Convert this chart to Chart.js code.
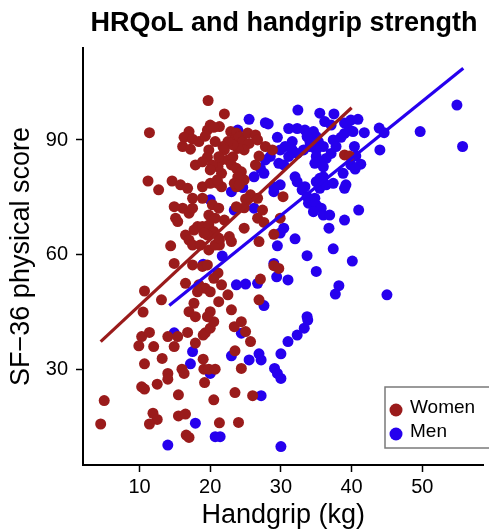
<!DOCTYPE html>
<html>
<head>
<meta charset="utf-8">
<style>
  html, body { margin: 0; padding: 0; background: #fff; }
</style>
</head>
<body>

<canvas id="gripChart" width="489" height="532"></canvas>

<script src="https://cdn.jsdelivr.net/npm/chart.js@4.4.0/dist/chart.umd.min.js"></script>
<script>
// values
const womenGrip = [
  4.5, 5.0, 10.3, 11.4, 9.9, 12.0, 14.0, 15.4, 16.8, 14.9, 10.7, 13.2, 17.9, 19.0, 19.3, 20.0, 20.5,
  14.0, 14.0, 16.0, 16.3, 19.0, 19.1, 19.8, 20.7, 19.2, 10.3, 10.7, 12.5, 15.5, 20.5, 11.9, 12.5,
  11.4, 15.5, 16.5, 16.6, 17.0, 21.3, 23.4, 24.4, 25.0, 25.7, 23.5, 24.4, 23.5, 26.0, 24.0,
  25.7, 26.7, 25.0, 30.3, 24.8, 27.4, 23.7, 26.7, 27.6, 29.9, 24.8, 22.0, 22.7, 23.0, 21.3, 21.3,
  26.9, 29.0, 29.0, 29.7, 27.1, 21.1, 21.6, 22.5, 26.9, 23.0, 21.6, 23.7,
  22.0, 21.3, 22.9, 23.7, 23.4, 24.1, 24.6, 25.3, 25.5, 24.8, 23.9, 23.2, 22.5, 21.8, 21.6, 22.5,
  23.2, 23.0, 23.7, 24.4, 24.8, 23.9, 23.4, 24.1, 21.6, 21.1, 21.1, 26.4, 26.7, 27.8, 28.8, 26.9,
  26.4, 22.0, 39.0, 39.7,
  19.7, 11.4, 17.0, 16.3, 17.5, 18.4, 19.6, 20.0, 20.5, 19.3, 16.1, 17.2, 19.8, 20.7, 21.2, 19.6,
  17.9, 18.9, 20.3, 20.0, 11.2, 14.6, 12.7, 15.8, 16.8, 18.9, 20.0, 21.0,
  17.5, 16.1, 17.0, 17.5, 14.9, 15.1, 15.4, 18.9, 20.3, 19.8, 20.7, 21.2, 18.2, 17.7, 18.9, 19.8,
  20.5, 19.6, 19.1, 16.5, 17.0, 17.5, 14.4, 18.6, 19.8, 20.7, 21.2, 14.9, 17.5, 18.9, 19.6, 20.5,
  16.5, 18.4, 19.3, 20.0, 18.2, 10.7, 13.1, 10.5, 17.7, 17.0, 17.9, 20.0, 19.6, 21.2
];
const womenScore = [
  15.9, 22.0, 38.7, 39.8, 36.3, 36.1, 38.7, 38.7, 39.8, 36.1, 31.6, 33.0, 37.0, 39.1, 39.7, 40.9, 42.6,
  29.1, 27.6, 30.2, 29.1, 32.8, 30.2, 30.2, 30.2, 26.7, 25.6, 25.0, 26.3, 23.5, 22.2, 18.7, 17.1,
  15.9, 18.0, 18.5, 13.0, 12.4, 16.2, 41.3, 42.6, 40.0, 37.4, 35.0, 30.4, 24.1, 23.3, 16.3,
  75.7, 74.8, 74.6, 75.2, 72.3, 71.7, 72.6, 69.6, 68.5, 69.6, 67.0, 69.1, 64.8, 63.5, 63.9, 62.6,
  63.5, 65.4, 57.2, 56.5, 53.7, 55.3, 52.2, 49.6, 48.3, 45.7, 77.8, 77.8,
  96.8, 93.5, 92.2, 91.8, 90.0, 90.9, 89.6, 91.8, 89.1, 87.4, 87.8, 88.7, 89.6, 88.3, 84.8, 84.8,
  85.6, 83.5, 82.6, 81.7, 79.6, 80.4, 78.7, 78.3, 81.3, 83.0, 78.7, 91.3, 90.0, 88.3, 87.4, 85.8,
  83.5, 87.4, 86.1, 85.8,
  100.3, 91.9, 92.2, 90.7, 90.2, 89.6, 92.6, 93.9, 93.3, 91.0, 88.3, 87.6, 87.4, 89.6, 85.6, 85.5,
  83.5, 84.3, 83.5, 82.2, 79.3, 79.3, 77.0, 78.3, 77.4, 77.8, 78.7, 79.6,
  74.8, 72.2, 70.9, 72.2, 72.6, 69.6, 68.7, 74.8, 73.1, 70.4, 69.6, 72.2, 67.4, 66.5, 67.4, 67.8,
  66.1, 65.2, 65.7, 65.2, 63.9, 62.6, 62.4, 62.6, 61.3, 62.6, 64.4, 57.8, 57.4, 57.0, 57.4, 53.9,
  52.6, 52.2, 51.3, 50.4, 50.4, 50.6, 48.3, 45.1, 47.4, 45.2, 43.9, 45.2, 43.9, 47.8
];

const menGrip = [
  14.9, 17.5, 17.2, 20.0, 17.9, 14.0, 20.7, 21.4, 24.4, 23.0, 25.5, 26.9, 27.2, 30.0, 29.1, 29.5,
  30.0, 27.2, 31.0, 32.3, 33.3, 33.8, 30.0, 41.0, 40.1, 45.0,
  23.0, 24.6, 29.0, 26.2, 23.4, 30.4, 29.9, 32.0, 29.5, 33.7, 37.4, 36.8, 39.0, 39.0, 29.0, 29.4,
  31.0, 35.0, 23.7, 25.0, 26.7, 38.2, 37.7, 27.6, 33.7, 21.7, 33.0, 33.7, 33.9, 34.8, 35.0, 35.7,
  36.0, 36.9, 35.5, 36.4, 34.6,
  32.4, 25.5, 27.8, 28.2, 35.5, 37.5, 36.2, 37.1, 39.0, 39.9, 39.7, 39.0, 31.1, 32.3, 33.4, 34.6,
  35.0, 33.7, 34.1, 35.3, 36.0, 35.0, 34.1, 33.2, 29.5, 23.9, 31.6, 30.6, 29.9, 31.6, 32.3, 31.1,
  28.5, 27.8, 29.7, 30.4, 37.4, 38.5, 37.8, 37.1, 36.4, 35.0, 35.5, 36.0, 34.8, 38.8, 37.4, 39.2,
  39.9, 32.0, 32.3, 33.4, 35.0, 35.5, 36.0, 29.0, 29.9, 27.1, 27.6, 26.2,
  54.9, 55.7, 49.7, 43.9, 44.6, 44.0, 41.8, 40.9, 40.2, 40.4, 40.6, 41.3, 40.5, 20.0, 19.0
];
const menScore = [
  39.7, 34.8, 31.6, 29.1, 16.1, 10.4, 12.6, 12.6, 39.6, 33.7, 32.6, 34.2, 32.6, 34.2, 30.4, 29.1,
  27.8, 23.3, 37.4, 39.1, 40.9, 43.0, 10.0, 71.7, 58.4, 49.6,
  76.5, 77.6, 76.5, 72.2, 71.7, 67.0, 65.7, 64.2, 62.4, 59.8, 61.6, 67.0, 69.1, 77.4, 57.8, 54.3,
  53.5, 55.7, 52.2, 52.4, 52.6, 52.0, 49.8, 46.8, 43.9, 59.7, 77.0, 75.2, 73.5, 74.8, 73.0, 72.2,
  70.4, 70.4, 77.4, 78.3, 71.3,
  97.8, 95.4, 94.5, 94.2, 97.0, 96.8, 94.8, 93.9, 94.4, 95.2, 92.6, 91.7, 93.0, 93.0, 92.6, 92.2,
  90.9, 90.9, 89.6, 89.6, 88.3, 87.4, 88.3, 87.4, 90.7, 92.6, 89.6, 88.3, 87.4, 87.4, 86.5, 85.7,
  85.7, 84.8, 83.9, 83.5, 90.0, 90.7, 88.3, 86.5, 85.2, 85.7, 84.3, 83.0, 83.9, 81.3, 78.7, 78.3,
  83.5, 80.4, 79.1, 77.8, 79.1, 80.0, 80.4, 77.8, 78.3, 82.6, 81.3, 80.4,
  99.1, 88.3, 92.2, 93.1, 91.9, 87.4, 91.9, 95.4, 92.2, 88.3, 85.8, 83.7, 82.4, 74.4, 57.6
];

// fitted lines, end points as drawn
const womenFitGrip = [4.5, 40.0];
const womenFitScore = [37.4, 98.4];
const menFitGrip = [14.2, 55.8];
const menFitScore = [46.8, 108.7];

const xTicks = [10, 20, 30, 40, 50];
const yTicks = [30, 60, 90];

const WOMEN_COL = '#9a1b1b';
const MEN_COL = '#2600ee';
const FONT = '"Liberation Sans", Arial, Helvetica, sans-serif';

const toPoints = (xs, ys) => xs.map((x, i) => ({ x: x, y: ys[i] }));

// chart title, centred over the plot area
const titlePlugin = {
  id: 'plotTitle',
  afterDraw(chart) {
    const ctx = chart.ctx;
    ctx.save();
    ctx.font = 'bold 27px ' + FONT;
    ctx.fillStyle = '#000';
    ctx.textAlign = 'center';
    ctx.textBaseline = 'middle';
    ctx.fillText('HRQoL and handgrip strength', 284, 24);
    ctx.restore();
  }
};

// boxed legend in the lower right corner
const boxLegend = {
  id: 'boxLegend',
  afterDraw(chart) {
    const ctx = chart.ctx;
    const items = chart.data.datasets.filter(d => d.inLegend);
    ctx.save();
    ctx.fillStyle = '#fff';
    ctx.fillRect(385, 387, 110, 61);
    ctx.strokeStyle = '#7a7a7a';
    ctx.lineWidth = 1.5;
    ctx.strokeRect(385, 387, 110, 61);
    ctx.font = '19px ' + FONT;
    ctx.textBaseline = 'middle';
    items.forEach((d, i) => {
      const y = 408 + i * 24;
      ctx.fillStyle = d.backgroundColor;
      ctx.beginPath();
      ctx.arc(396, y + 2, 6.5, 0, Math.PI * 2);
      ctx.fill();
      ctx.fillStyle = '#000';
      ctx.fillText(d.label, 410, y);
    });
    ctx.restore();
  }
};

const axisCommon = {
  type: 'linear',
  grid: { display: true, drawOnChartArea: false, drawTicks: true, tickLength: 7, tickWidth: 1.5, color: '#000', tickColor: '#000' },
  border: { display: true, color: '#000', width: 2 },
};

new Chart(document.getElementById('gripChart'), {
  type: 'scatter',
  data: {
    datasets: [
      {
        type: 'line', label: 'Women fit', data: toPoints(womenFitGrip, womenFitScore),
        borderColor: WOMEN_COL, borderWidth: 3.2, pointRadius: 0, fill: false, order: 0
      },
      {
        type: 'line', label: 'Men fit', data: toPoints(menFitGrip, menFitScore),
        borderColor: MEN_COL, borderWidth: 3.2, pointRadius: 0, fill: false, order: 0
      },
      {
        label: 'Women', inLegend: true, data: toPoints(womenGrip, womenScore),
        backgroundColor: WOMEN_COL, borderWidth: 0, pointRadius: 5.5, pointHoverRadius: 5.5, order: 1
      },
      {
        label: 'Men', inLegend: true, data: toPoints(menGrip, menScore),
        backgroundColor: MEN_COL, borderWidth: 0, pointRadius: 5.5, pointHoverRadius: 5.5, order: 2
      }
    ]
  },
  options: {
    responsive: false,
    animation: false,
    layout: { padding: { top: 48, left: 0, right: 0, bottom: 0 } },
    plugins: {
      legend: { display: false },
      title: { display: false },
      tooltip: { enabled: false }
    },
    scales: {
      x: {
        ...axisCommon,
        min: 2.0,
        max: 58.66,
        afterBuildTicks: s => { s.ticks = xTicks.map(v => ({ value: v })); },
        afterFit: s => { s.height = 67; },
        ticks: { color: '#000', font: { family: FONT, size: 20 }, padding: 3 },
        title: { display: true, text: 'Handgrip (kg)', color: '#000', font: { family: FONT, size: 27 }, padding: { top: 0, bottom: 0 } }
      },
      y: {
        ...axisCommon,
        min: 5.2,
        max: 114,
        afterBuildTicks: s => { s.ticks = yTicks.map(v => ({ value: v })); },
        afterFit: s => { s.width = 83; },
        ticks: { color: '#000', font: { family: FONT, size: 20 }, padding: 8 },
        title: { display: true, text: 'SF\u221236 physical score', color: '#000', font: { family: FONT, size: 27 }, padding: { top: 5, bottom: 0 } }
      }
    }
  },
  plugins: [titlePlugin, boxLegend]
});
</script>

</body>
</html>
